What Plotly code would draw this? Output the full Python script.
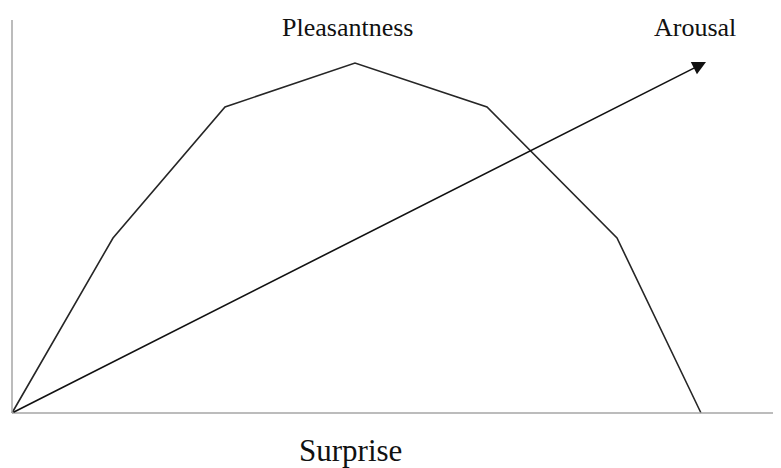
import plotly.graph_objects as go

# surprise level (x) vs pleasantness (y), arbitrary units
surprise = [0, 101, 213, 343, 475, 605, 689]
pleasantness = [0, 175, 306, 350, 306, 175, 0]

# arousal grows linearly with surprise
arousal_x = [0, 694]
arousal_y = [0, 351]

serif = "Liberation Serif, Times New Roman, serif"

fig = go.Figure()
fig.add_trace(go.Scatter(
    x=surprise, y=pleasantness, mode="lines",
    line=dict(color="#262626", width=1.6),
    hoverinfo="skip",
))

# arousal arrow
fig.add_annotation(
    x=arousal_x[1], y=arousal_y[1], ax=arousal_x[0], ay=arousal_y[0],
    xref="x", yref="y", axref="x", ayref="y",
    text="", showarrow=True, arrowhead=2, arrowsize=1.7, arrowwidth=1.6,
    arrowcolor="#111111",
)

# axis lines
fig.add_shape(type="line", x0=0, x1=0, y0=0, y1=393,
              line=dict(color="#a6a6a6", width=1.5))
fig.add_shape(type="line", x0=0, x1=769, y0=0, y1=0,
              line=dict(color="#a6a6a6", width=1.5))

fig.add_annotation(x=335, y=386, xref="x", yref="y", text="Pleasantness",
                   showarrow=False, font=dict(family=serif, size=26, color="#111"))
fig.add_annotation(x=683, y=386, xref="x", yref="y", text="Arousal",
                   showarrow=False, font=dict(family=serif, size=26, color="#111"))
fig.add_annotation(x=338, y=-37, xref="x", yref="y", text="Surprise",
                   showarrow=False, font=dict(family=serif, size=31, color="#111"))

# page body adds an 8px offset, so the ranges are shifted to compensate
fig.update_xaxes(range=[-4, 777], visible=False, fixedrange=True)
fig.update_yaxes(range=[-63, 405], visible=False, fixedrange=True)
fig.update_layout(
    width=781, height=468,
    margin=dict(l=0, r=0, t=0, b=0),
    paper_bgcolor="white", plot_bgcolor="white",
    showlegend=False,
)

fig.write_html("out.html")
